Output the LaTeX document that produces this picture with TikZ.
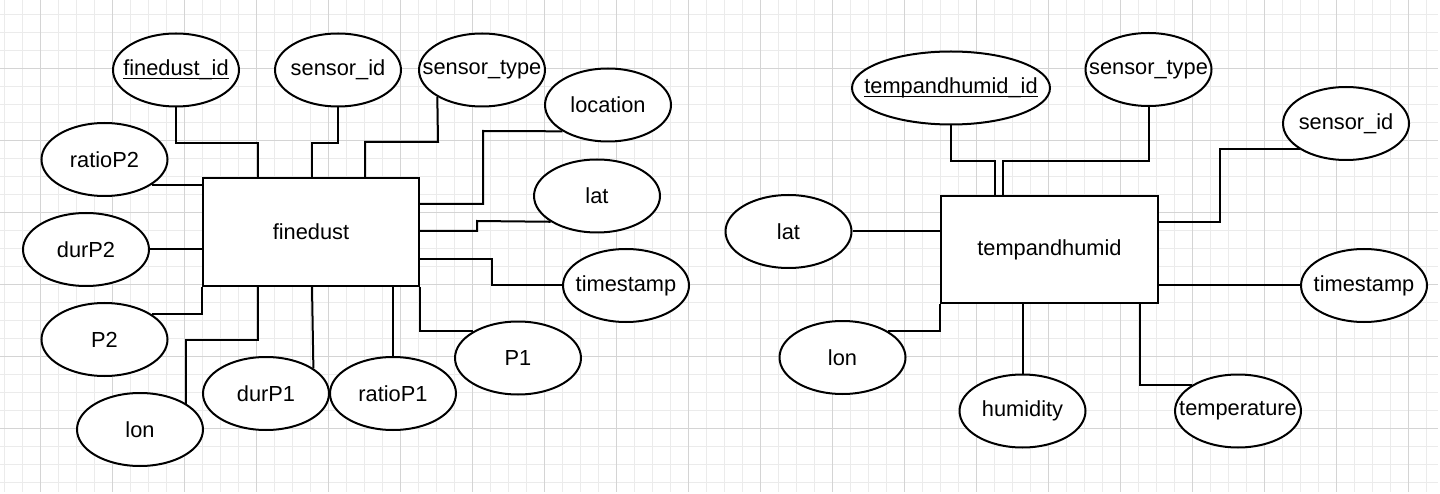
\documentclass[tikz,border=0pt]{standalone}
\usepackage{fontspec}
\setmainfont{Liberation Sans}
\usetikzlibrary{shapes.geometric}
\newcommand\ulbox[1]{\sbox0{#1}\rlap{\rule[-3.5pt]{\wd0}{1.6pt}}\usebox0}
\newcommand\zb[1]{\makebox[0pt]{#1}}
\begin{document}
\begin{tikzpicture}[x=1pt,y=-1pt,
  font=\fontsize{21.8pt}{26pt}\selectfont,
  attr/.style={ellipse, draw, line width=2pt, fill=white, minimum width=126pt, minimum height=73pt, inner sep=0pt},
  ent/.style={rectangle, draw, line width=2pt, fill=white, minimum width=216pt, minimum height=108pt},
  conn/.style={line width=2pt},
  gminor/.style={draw=black!8, line width=0.8pt},
  gmajor/.style={draw=black!17, line width=0.8pt}]
\fill[white] (0,0) rectangle (1440,494);
\useasboundingbox (0,0) rectangle (1440,494);
% grid
\foreach \x in {4,22,...,1438} \draw[gminor] (\x,0) -- (\x,492);
\foreach \y in {14,32,...,492} \draw[gminor] (0,\y) -- (1438,\y);
\foreach \x in {40,112,...,1438} \draw[gmajor] (\x,0) -- (\x,492);
\foreach \y in {68,140,...,492} \draw[gmajor] (0,\y) -- (1438,\y);

% ---------- finedust ----------
\node[ent] (fd) at (311,232) {finedust};
\node[attr] (fid) at (176,70) {\zb{\ulbox{finedust\_id}}};
\node[attr] (sid) at (338,70) {\zb{sensor\_id}};
\node[attr] (styp) at (482,70) {\zb{sensor\_type}};
\node[attr] (loc) at (608,105) {\zb{location}};
\node[attr] (lat) at (597,196) {\zb{lat}};
\node[attr] (ts) at (626,285.5) {\zb{timestamp}};
\node[attr] (p1) at (518,358) {\zb{P1}};
\node[attr] (rp1) at (393,393.5) {\zb{ratioP1}};
\node[attr] (dp1) at (266,393.5) {\zb{durP1}};
\node[attr] (lon) at (140,429.5) {\zb{lon}};
\node[attr] (p2) at (104.5,339.5) {\zb{P2}};
\node[attr] (dp2) at (86,249.5) {\zb{durP2}};
\node[attr] (rp2) at (104.5,159.5) {\zb{ratioP2}};

\draw[conn] (fid.south) -- ++(0,36) -| ([xshift=-53pt]fd.north);
\draw[conn] (sid.south) -- ++(0,36) -| ([xshift=1pt]fd.north);
\draw[conn] ([xshift=54pt]fd.north) |- (438,142) -- (styp.211);
\draw[conn] ([yshift=28pt]fd.east) -| (483,131) -- (loc.210);
\draw[conn] ([yshift=1pt]fd.east) -| (477,221) -- (lat.209);
\draw[conn] ([yshift=-27pt]fd.east) -| (492,285.5) -- (ts.west);
\draw[conn] (fd.south east) |- (p1.149);
\draw[conn] (rp1.north) -- (rp1.north |- fd.south);
\draw[conn] ([xshift=1pt]fd.south) -- (dp1.28);
\draw[conn] ([xshift=-53pt]fd.south) -- ++(0,53) -| (lon.29.5);
\draw[conn] (fd.south west) |- (p2.28.5);
\draw[conn] (dp2.east) -- (dp2.east -| fd.west);
\draw[conn] (rp2.332) -- (rp2.332 -| fd.west);

% ---------- tempandhumid ----------
\node[ent, minimum width=217pt, minimum height=107pt] (th) at (1049.5,249.5) {tempandhumid};
\node[attr, minimum width=198pt] (thid) at (951,88) {\zb{\ulbox{tempandhumid\_id}}};
\node[attr] (rstyp) at (1148.5,69.5) {\zb{sensor\_type}};
\node[attr] (rsid) at (1346,123.5) {\zb{sensor\_id}};
\node[attr] (rlat) at (788.5,231.5) {\zb{lat}};
\node[attr] (rlon) at (842.5,357.5) {\zb{lon}};
\node[attr] (hum) at (1022.5,411) {\zb{humidity}};
\node[attr] (temp) at (1238,411) {\zb{temperature}};
\node[attr] (rts) at (1364,285.5) {\zb{timestamp}};

\draw[conn] (thid.south) -- ++(0,36) -| ([xshift=-54.5pt]th.north);
\draw[conn] (rstyp.south) -- ++(0,54) -| ([xshift=-46.5pt]th.north);
\draw[conn] (rsid.209) -| (1220,222) -- ([yshift=27.5pt]th.east);
\draw[conn] (rlat.east) -- (rlat.east -| th.west);
\draw[conn] (th.south west) |- (rlon.30);
\draw[conn] (hum.north) -- (hum.north |- th.south);
\draw[conn] ([xshift=-19pt]th.south east) |- (temp.151.5);
\draw[conn] (rts.west) -- (rts.west -| th.east);
\end{tikzpicture}
\end{document}
